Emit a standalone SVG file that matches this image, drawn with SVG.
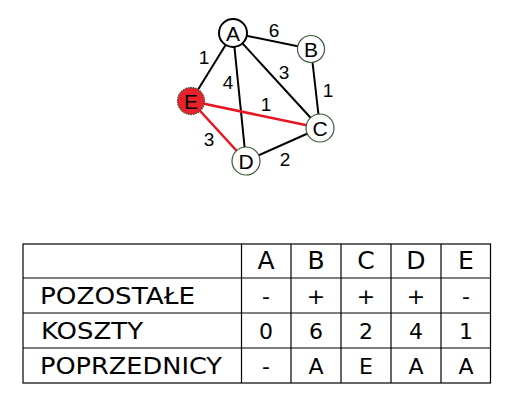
<svg xmlns="http://www.w3.org/2000/svg" width="530" height="400" viewBox="0 0 530 400">
<style>
.edge{stroke:#000;stroke-width:2;fill:none}
.red{stroke:#e8141e;stroke-width:2.5;fill:none}
.node{fill:#fff;stroke:#3b5a3b;stroke-width:1.2}
.lbl{font-family:"Liberation Sans",Arial,sans-serif;font-size:21px;text-anchor:middle;fill:#000}
.w{font-family:"Liberation Sans",Arial,sans-serif;font-size:19px;text-anchor:middle;fill:#000}
.grid{stroke:#000;stroke-width:1.2;fill:none}
.th{font-family:"DejaVu Sans",sans-serif;font-size:25px;text-anchor:middle;fill:#000}
.tl{font-family:"DejaVu Sans",sans-serif;font-size:23px;fill:#000}
.tv{font-family:"DejaVu Sans",sans-serif;font-size:22px;text-anchor:middle;fill:#000}
</style>
<rect width="530" height="400" fill="#fff"/>
<g id="connectors">
<line class="edge" x1="233" y1="33" x2="311" y2="49"/>
<line class="edge" x1="233" y1="33" x2="191" y2="101"/>
<line class="edge" x1="233" y1="33" x2="246" y2="161"/>
<line class="edge" x1="233" y1="33" x2="320" y2="128"/>
<line class="edge" x1="311" y1="49" x2="320" y2="128"/>
<line class="edge" x1="246" y1="161" x2="320" y2="128"/>
<line class="red" x1="191" y1="101" x2="320" y2="128"/>
<line class="red" x1="191" y1="101" x2="246" y2="161"/>
<text class="w" x="274" y="37">6</text>
<text class="w" x="204" y="64">1</text>
<text class="w" x="228" y="89">4</text>
<text class="w" x="284" y="79">3</text>
<text class="w" x="328" y="97">1</text>
<text class="w" x="266" y="111">1</text>
<text class="w" x="209" y="146">3</text>
<text class="w" x="285" y="166">2</text>
</g>
<g id="node-A">
<circle cx="233" cy="33" r="14" fill="#fff" stroke="#000" stroke-width="2"/>
<text class="lbl" x="233" y="40.5">A</text>
</g>
<g id="node-B">
<circle class="node" cx="311" cy="49" r="13.5"/>
<text class="lbl" x="311" y="56.5">B</text>
</g>
<g id="node-C">
<circle class="node" cx="320" cy="128" r="14"/>
<text class="lbl" x="320" y="135.5">C</text>
</g>
<g id="node-D">
<circle class="node" cx="246" cy="161" r="14"/>
<text class="lbl" x="246" y="168.5">D</text>
</g>
<g id="node-E">
<circle cx="191" cy="101" r="13.5" fill="#e8222a" stroke="#4a4a3a" stroke-width="1.3" stroke-dasharray="1.5 1"/>
<text class="lbl" x="191" y="108.5">E</text>
</g>
<g id="table">
<rect class="grid" x="23" y="244" width="467.5" height="139"/>
<line class="grid" x1="23" y1="278" x2="490.5" y2="278"/>
<line class="grid" x1="23" y1="313" x2="490.5" y2="313"/>
<line class="grid" x1="23" y1="348" x2="490.5" y2="348"/>
<line class="grid" x1="241.5" y1="244" x2="241.5" y2="383"/>
<line class="grid" x1="291" y1="244" x2="291" y2="383"/>
<line class="grid" x1="341" y1="244" x2="341" y2="383"/>
<line class="grid" x1="391" y1="244" x2="391" y2="383"/>
<line class="grid" x1="441" y1="244" x2="441" y2="383"/>
<text class="th" x="266" y="269">A</text>
<text class="th" x="316" y="269">B</text>
<text class="th" x="366" y="269">C</text>
<text class="th" x="416" y="269">D</text>
<text class="th" x="466" y="269">E</text>
<text class="tl" x="40" y="304" textLength="155" lengthAdjust="spacingAndGlyphs">POZOSTAŁE</text>
<text class="tl" x="41" y="339" textLength="102" lengthAdjust="spacingAndGlyphs">KOSZTY</text>
<text class="tl" x="40" y="374" textLength="182" lengthAdjust="spacingAndGlyphs">POPRZEDNICY</text>
<text class="tv" x="266" y="304">-</text>
<text class="tv" x="316" y="304">+</text>
<text class="tv" x="366" y="304">+</text>
<text class="tv" x="416" y="304">+</text>
<text class="tv" x="466" y="304">-</text>
<text class="tv" x="266" y="339">0</text>
<text class="tv" x="316" y="339">6</text>
<text class="tv" x="366" y="339">2</text>
<text class="tv" x="416" y="339">4</text>
<text class="tv" x="466" y="339">1</text>
<text class="tv" x="266" y="374">-</text>
<text class="tv" x="316" y="374">A</text>
<text class="tv" x="366" y="374">E</text>
<text class="tv" x="416" y="374">A</text>
<text class="tv" x="466" y="374">A</text>
</g>
</svg>
